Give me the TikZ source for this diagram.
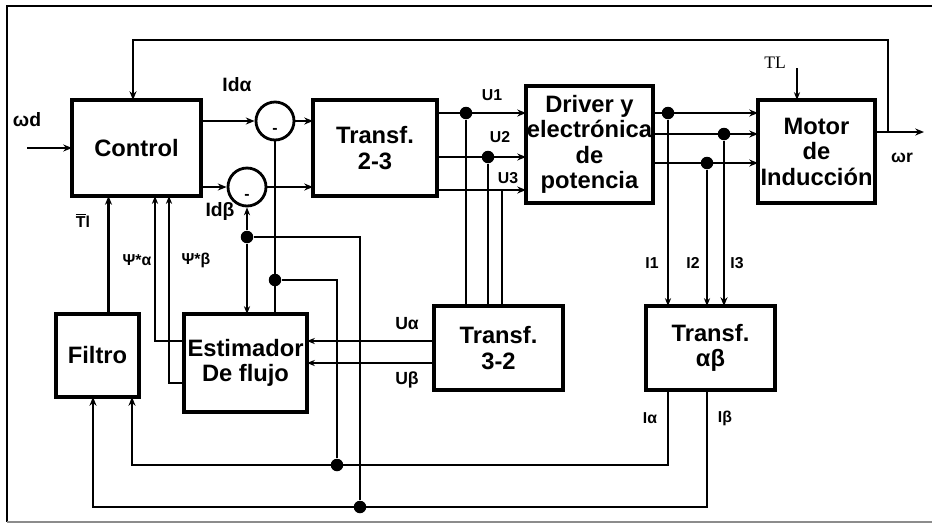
\documentclass[tikz,border=0pt]{standalone}
\usepackage{fontspec}
\setmainfont{Liberation Sans}
\newfontfamily\serifTL{Liberation Serif}
\usepackage{tikz}
\usetikzlibrary{positioning}
\usetikzlibrary{shapes.geometric, arrows.meta}

\tikzset{
  blk/.style={draw, line width=1.8pt, inner sep=0pt, outer sep=0pt, align=center,
    font=\fontsize{13.5}{14.5}\selectfont\bfseries},
  sumnode/.style={circle, draw, line width=1.6pt, minimum size=0.76cm, inner sep=0pt},
  jdot/.style={circle, fill, inner sep=0pt, minimum size=0.25cm},
  wire/.style={line width=1.6pt},
  thinwire/.style={line width=1.1pt},
  sig/.style={wire, -{Stealth[length=5pt,width=4pt]}},
  thinsig/.style={thinwire, -{Stealth[length=4.5pt,width=3.5pt]}},
  lbl/.style={font=\fontsize{9}{9}\selectfont\bfseries},
  midlbl/.style={font=\fontsize{10}{10}\selectfont\bfseries},
  biglbl/.style={font=\fontsize{11}{11}\selectfont\bfseries},
}

\begin{document}
\begin{tikzpicture}[x=0.02cm, y=-0.02cm]

\useasboundingbox (0,0) rectangle (932,525);

% Frame
\draw[line width=1pt] (932,6) -- (7,6) -- (7,522);
\draw[line width=1pt, black!45] (7,522) -- (932,522);

% Blocks
\node[blk, minimum width=2.58cm, minimum height=1.92cm] (ctrl) at (136.5,148) {Control};
\node[blk, minimum width=2.48cm, minimum height=1.92cm] (t23) at (375,148) {Transf.\\2-3};
\node[blk, minimum width=2.54cm, minimum height=2.34cm] (drv) at (589.5,144.5) {Driver y\\electrónica\\de\\potencia};
\node[blk, minimum width=2.34cm, minimum height=2.06cm] (mot) at (816.5,151.5) {Motor\\de\\Inducción};
\node[blk, minimum width=1.66cm, minimum height=1.66cm] (filt) at (97.5,355.5) {Filtro};
\node[blk, minimum width=2.46cm, minimum height=1.96cm] (est) at (245.5,363) {Estimador\\De flujo};
\node[blk, minimum width=2.58cm, minimum height=1.68cm] (t32) at (498.5,348) {Transf.\\3-2};
\node[blk, minimum width=2.58cm, minimum height=1.68cm] (tab) at (710.5,348) {Transf.\\αβ};

% Summing points
\node[sumnode] (sa) at (275,121) {};
\node[sumnode] (sb) at (247,187) {};
\node[lbl] (sam) at ([yshift=-0.2cm]sa.center) {-};
\node[lbl] (sbm) at ([yshift=-0.2cm]sb.center) {-};

% Junctions
\node[jdot] (ju1) at (466,113) {};
\node[jdot] (ju2) at (488,157) {};
\coordinate (ju3) at (502,190);
\node[jdot] (ji1) at (668,113) {};
\node[jdot] (ji3) at (724,134) {};
\node[jdot] (ji2) at (707,163) {};
\node[jdot] (ja) at (337,465) {};
\node[jdot] (jb) at (360,507) {};
\node[jdot] (jc) at (275,280) {};
\node[jdot] (jd) at (247,237) {};

% Speed reference
\coordinate (wdin) at (27,148);
\draw[sig] (wdin) -- (ctrl.west);

% Control to sums to Transf. 2-3
\draw[sig] (ctrl.east |- sa) -- (sa.west);
\draw[sig] (sa.east) -- (t23.west |- sa);
\draw[sig] (ctrl.east |- sb) -- (sb.west);
\draw[sig] (sb.east) -- (t23.west |- sb);

% Transf. 2-3 to driver
\draw[sig] (t23.east |- ju1) -- (drv.west |- ju1);
\draw[sig] (t23.east |- ju2) -- (drv.west |- ju2);
\draw[sig] (t23.east |- ju3) -- (drv.west |- ju3);
\draw[wire] (ju1) -- (ju1 |- t32.north);
\draw[wire] (ju2) -- (ju2 |- t32.north);
\draw[wire] (ju3) -- (ju3 |- t32.north);

% Driver to motor
\draw[sig] (drv.east |- ji1) -- (mot.west |- ji1);
\draw[sig] (drv.east |- ji3) -- (mot.west |- ji3);
\draw[sig] (drv.east |- ji2) -- (mot.west |- ji2);
\draw[thinsig] (ji1) -- (ji1 |- tab.north);
\draw[thinsig] (ji2) -- (ji2 |- tab.north);
\draw[sig] (ji3) -- (ji3 |- tab.north);

% Load torque
\coordinate (tlin) at (797,68);
\draw[thinsig] (tlin) -- (tlin |- mot.north);

% Speed out and feedback
\coordinate (wrout) at (924,132);
\coordinate (fb) at (888,132);
\coordinate (fbtop) at (133,40);
\draw[sig] (mot.east |- wrout) -- (wrout);
\draw[sig] (fb) |- (fbtop) -- (fbtop |- ctrl.north);

% Transf. 3-2 to estimator
\coordinate (ua) at (400,341);
\coordinate (ub) at (400,363);
\draw[thinsig] (t32.west |- ua) -- (est.east |- ua);
\draw[thinsig] (t32.west |- ub) -- (est.east |- ub);

% Estimator to control
\coordinate (psa) at (155,341);
\coordinate (psb) at (169,383);
\draw[thinsig] (est.west |- psa) -| (psa |- ctrl.south);
\draw[thinsig] (est.west |- psb) -| (psb |- ctrl.south);

% Filter to control
\coordinate (tlf) at ([xshift=0.22cm]filt.north);
\draw[sig] (tlf) -- (tlf |- ctrl.south);

% I alpha
\coordinate (iab) at (668,465);
\coordinate (iaf) at (132,465);
\draw[sig] (iab |- tab.south) -- (iab) -- (iaf) -- (iaf |- filt.south);
\draw[wire] (ja) |- (jc);
\draw[wire] (est.north -| sa) -- (sa.south);

% I beta
\coordinate (ibb) at (707,507);
\coordinate (ibf) at (93,507);
\draw[sig] (ibb |- tab.south) -- (ibb) -- (ibf) -- (ibf |- filt.south);
\draw[wire] (jb) |- (jd);
\draw[thinsig] (jd) -- (sb.south);
\draw[thinsig] (jd) -- (jd |- est.north);

% Labels
\node[biglbl] (lwd) at (27,120) {ωd};
\node[biglbl] (lida) at (237,85) {Idα};
\node[biglbl] (lidb) at (220,211) {Idβ};
\node[lbl] (ltl) at (83,220) {$\overline{\mbox{T}}$l};
\node[lbl] (lpsa) at (137,260) {Ψ*α};
\node[lbl] (lpsb) at (196,260) {Ψ*β};
\node[lbl] (lu1) at (492,95) {U1};
\node[lbl] (lu2) at (500,137) {U2};
\node[lbl] (lu3) at (508,178) {U3};
\node[midlbl] (lua) at (407,324) {Uα};
\node[midlbl] (lub) at (407,380) {Uβ};
\node[lbl] (li1) at (652,263) {I1};
\node[lbl] (li2) at (693,263) {I2};
\node[lbl] (li3) at (737,263) {I3};
\node[lbl] (lia) at (650,418) {Iα};
\node[lbl] (lib) at (725,418) {Iβ};
\node[font=\serifTL\fontsize{10}{10}\selectfont] (lload) at (775,63) {TL};
\node[midlbl] (lwr) at (902,158) {ωr};

\end{tikzpicture}
\end{document}
